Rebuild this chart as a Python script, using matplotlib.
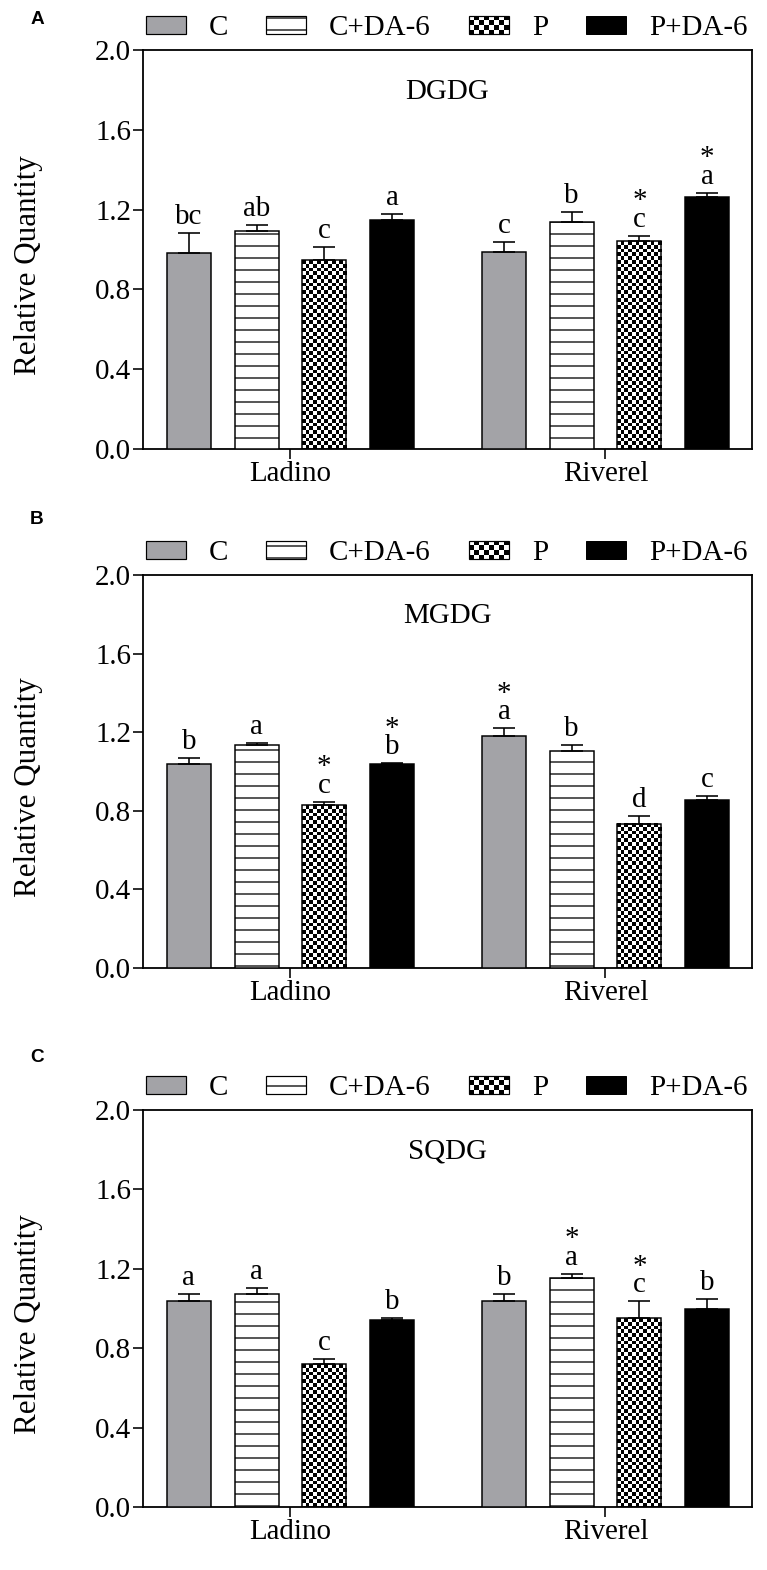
import numpy as np
import matplotlib
matplotlib.use('Agg')
import matplotlib.pyplot as plt
from matplotlib.patches import Patch, Rectangle
from matplotlib.colors import ListedColormap
from matplotlib.legend_handler import HandlerBase

# ---- data ----
groups = ['Ladino', 'Riverel']
treatments = ['C', 'C+DA-6', 'P', 'P+DA-6']
lipids = ['DGDG', 'MGDG', 'SQDG']
panel_tags = ['A', 'B', 'C']

# rows = cultivar (Ladino, Riverel), cols = treatment
dgdg_mean = [[0.98, 1.095, 0.945, 1.148], [0.988, 1.136, 1.042, 1.265]]
dgdg_err = [[0.105, 0.03, 0.07, 0.03], [0.05, 0.05, 0.028, 0.02]]
dgdg_letters = [['bc', 'ab', 'c', 'a'], ['c', 'b', 'c', 'a']]
dgdg_star = [[0, 0, 0, 0], [0, 0, 1, 1]]

mgdg_mean = [[1.04, 1.136, 0.828, 1.038], [1.18, 1.106, 0.734, 0.856]]
mgdg_err = [[0.03, 0.008, 0.018, 0.005], [0.04, 0.028, 0.04, 0.018]]
mgdg_letters = [['b', 'a', 'c', 'b'], ['a', 'b', 'd', 'c']]
mgdg_star = [[0, 0, 1, 1], [1, 0, 0, 0]]

sqdg_mean = [[1.036, 1.073, 0.719, 0.941], [1.036, 1.152, 0.952, 0.997]]
sqdg_err = [[0.037, 0.03, 0.026, 0.013], [0.037, 0.023, 0.084, 0.049]]
sqdg_letters = [['a', 'a', 'c', 'b'], ['b', 'a', 'c', 'b']]
sqdg_star = [[0, 0, 0, 0], [0, 1, 1, 0]]

yticks = [0.0, 0.4, 0.8, 1.2, 1.6, 2.0]

# ---- style ----
W, H, DPI = 767, 1570, 72
GRAY = '#a3a3a7'
plt.rcParams['font.family'] = ['Liberation Serif', 'DejaVu Serif']
plt.rcParams['hatch.linewidth'] = 1.3
plt.rcParams['hatch.color'] = 'black'

faces = [GRAY, 'white', 'none', 'black']
hatches = [None, '-', None, None]
bar_w = 0.14
offsets = (np.arange(4) - 1.5) * 0.215
xlim = (-0.468, 1.465)

fig = plt.figure(figsize=(W / DPI, H / DPI), dpi=DPI)

# axes boxes in pixels: left, top, right, bottom
boxes = [(143, 50, 752, 449), (143, 575, 752, 968), (143, 1110, 752, 1507)]
tag_y = [20, 520, 1057]


def px_axes(left, top, right, bottom):
    return fig.add_axes([left / W, 1 - bottom / H, (right - left) / W, (bottom - top) / H])


def add_checker(ax, bar, cell_px=3.8):
    x0, y0 = bar.get_x(), bar.get_y()
    w, h = bar.get_width(), bar.get_height()
    p0 = ax.transData.transform((x0, y0))
    p1 = ax.transData.transform((x0 + w, y0 + h))
    nx = max(1, int(round((p1[0] - p0[0]) / cell_px)))
    ny = max(1, int(round((p1[1] - p0[1]) / cell_px)))
    grid = np.indices((ny, nx)).sum(axis=0) % 2
    ax.imshow(grid, extent=(x0, x0 + w, y0, y0 + h), origin='lower',
              cmap=ListedColormap(['white', 'black']), vmin=0, vmax=1,
              interpolation='nearest', aspect='auto', zorder=2.5)


class CheckerHandler(HandlerBase):
    def create_artists(self, legend, orig_handle, xdescent, ydescent,
                       width, height, fontsize, trans):
        arts = [Rectangle((-xdescent, -ydescent), width, height, facecolor='white',
                          edgecolor='black', lw=1.2, transform=trans)]
        nx, ny = 8, 4
        cw, ch = width / nx, height / ny
        for i in range(nx):
            for j in range(ny):
                if (i + j) % 2 == 0:
                    arts.append(Rectangle((-xdescent + i * cw, -ydescent + j * ch), cw, ch,
                                          facecolor='black', lw=0, transform=trans))
        return arts


data = [
    (dgdg_mean, dgdg_err, dgdg_letters, dgdg_star),
    (mgdg_mean, mgdg_err, mgdg_letters, mgdg_star),
    (sqdg_mean, sqdg_err, sqdg_letters, sqdg_star),
]

x_groups = np.arange(len(groups))

for k, (box, name, tag, (mean, err, letters, stars)) in enumerate(zip(boxes, lipids, panel_tags, data)):
    mean = np.array(mean)
    err = np.array(err)
    ax = px_axes(*box)
    ax.set_xlim(*xlim)
    ax.set_ylim(0, 2.0)

    for j, t in enumerate(treatments):
        xs = x_groups + offsets[j]
        ys = mean[:, j]
        es = err[:, j]
        bars = ax.bar(xs, ys, width=bar_w, facecolor=faces[j], edgecolor='black',
                      linewidth=1.5, hatch=hatches[j], zorder=3)
        if t == 'P':
            for b in bars:
                add_checker(ax, b)
        ax.errorbar(xs, ys, yerr=[np.zeros_like(es), es], fmt='none', ecolor='black',
                    elinewidth=1.6, capsize=11, capthick=1.6, zorder=4)
        for g in range(len(groups)):
            # significance star sits on its own line above the letter
            label = ('*\n' if stars[g][j] else '') + letters[g][j]
            ax.annotate(label, (xs[g], ys[g] + es[g]), xytext=(0, 3),
                        textcoords='offset points', ha='center', va='bottom',
                        fontsize=29, linespacing=0.62)

    ax.set_xlim(*xlim)
    ax.set_ylim(0, 2.0)
    ax.set_yticks(yticks)
    ax.set_yticklabels([f'{v:.1f}' for v in yticks])
    ax.set_xticks(x_groups)
    ax.set_xticklabels(groups)
    ax.tick_params(axis='both', direction='out', length=10, width=1.6, labelsize=29, pad=2)
    for s in ax.spines.values():
        s.set_linewidth(1.8)
    ax.set_ylabel('Relative Quantity', fontsize=31)
    ax.yaxis.set_label_coords(-0.165, 0.46)
    ax.text(0.5, 0.895, name, transform=ax.transAxes, ha='center', va='center', fontsize=29)

    handles = [Patch(facecolor=GRAY, edgecolor='black', lw=1.2),
               Patch(facecolor='white', edgecolor='black', lw=1.2, hatch='-'),
               Patch(facecolor='white', edgecolor='black'),
               Patch(facecolor='black', edgecolor='black')]
    ax.legend(handles, treatments, handler_map={handles[2]: CheckerHandler()},
              loc='lower left', bbox_to_anchor=(-0.01, 1.0), ncol=4, frameon=False,
              fontsize=29, handlelength=1.38, handleheight=0.6, handletextpad=0.8,
              columnspacing=1.3, borderpad=0, borderaxespad=0.3)

    fig.text(37 / W, 1 - tag_y[k] / H, tag, family='Liberation Sans', weight='bold',
             fontsize=19, ha='center', va='center')

fig.savefig('out.png', dpi=DPI)
